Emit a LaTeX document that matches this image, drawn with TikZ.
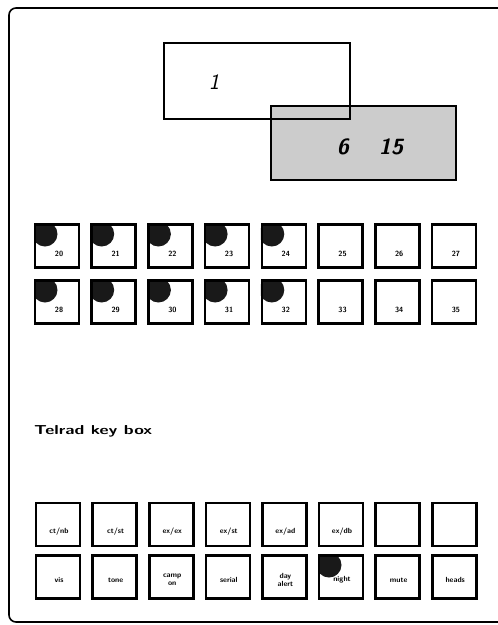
\documentclass[tikz,border=0pt]{standalone}
\usetikzlibrary{calc}
\begin{document}
\begin{tikzpicture}[x=1pt,y=-1pt]
\useasboundingbox (0,0) rectangle (498,625);
\tikzset{
  frame/.style={line width=1.6pt},
  dispbox/.style={draw, line width=1.8pt, inner sep=0pt, anchor=north west},
  keybox/.style={draw, line width=2.6pt, minimum width=44pt, minimum height=43pt, inner sep=0pt, outer sep=0pt},
  keytxt/.style={font=\sffamily\bfseries\fontsize{7.5}{7.5}\selectfont, inner sep=0pt, align=center},
  lamp/.style={fill=black!90},
  bigtxt/.style={font=\sffamily\bfseries\itshape\fontsize{22}{22}\selectfont, inner sep=0pt},
}
% outer frame
\draw[frame, rounded corners=7pt] (498,8) -- (9,8) -- (9,622) -- (498,622);

% displays
\node[dispbox, fill=gray!40, minimum width=185pt, minimum height=74pt] (disp2) at (270,105) {};
\node[dispbox, minimum width=186pt, minimum height=76pt] (disp1) at (163,42) {};
\node[bigtxt, font=\sffamily\itshape\fontsize{22}{22}\selectfont] (one) at (214,82) {1};
\node[bigtxt] (time) at (370,147) {6\hspace{30pt}15};

% top grid keys
\foreach \lab [count=\i from 0] in {20,21,22,23,24,25,26,27} {
  \pgfmathsetmacro\xx{34+56.7*\i}
  \ifnum\i<5
    \begin{scope}
      \clip (\xx,223) rectangle ++(46,46);
      \fill[lamp] (\xx+11,234) circle (12.5);
    \end{scope}
  \fi
  \node[keybox] (ka\i) at (\xx+23,246) {};
  \node[keytxt] (ta\i) at ($(ka\i.center)+(2,8)$) {\lab};
}
\foreach \lab [count=\i from 0] in {28,29,30,31,32,33,34,35} {
  \pgfmathsetmacro\xx{34+56.7*\i}
  \ifnum\i<5
    \begin{scope}
      \clip (\xx,279) rectangle ++(46,46);
      \fill[lamp] (\xx+11,290) circle (12.5);
    \end{scope}
  \fi
  \node[keybox] (kb\i) at (\xx+23,302) {};
  \node[keytxt] (tb\i) at ($(kb\i.center)+(2,8)$) {\lab};
}

% caption
\node[font=\sffamily\bfseries\fontsize{13}{13}\selectfont, anchor=west, inner sep=0pt] (cap) at (34,431) {\scalebox{1.35}[1]{Telrad key box}};

% bottom keys
\foreach \lab [count=\i from 0] in {ct/nb,ct/st,ex/ex,ex/st,ex/ad,ex/db,{},{}} {
  \pgfmathsetmacro\xx{35+56.6*\i}
  \node[keybox] (kc\i) at (\xx+23,524.5) {};
  \node[keytxt] (tc\i) at ($(kc\i.center)+(1,7)$) {\lab};
}
\foreach \lab [count=\i from 0] in {vis,tone,{camp\\on},serial,{day\\alert},night,mute,heads} {
  \pgfmathsetmacro\xx{35+56.6*\i}
  \ifnum\i=5
    \begin{scope}
      \clip (\xx,554) rectangle ++(46,46);
      \fill[lamp] (\xx+11,565) circle (12.5);
    \end{scope}
  \fi
  \node[keybox] (kd\i) at (\xx+23,577) {};
  \node[keytxt] (td\i) at ($(kd\i.center)+(1,3)$) {\lab};
}
\end{tikzpicture}
\end{document}
